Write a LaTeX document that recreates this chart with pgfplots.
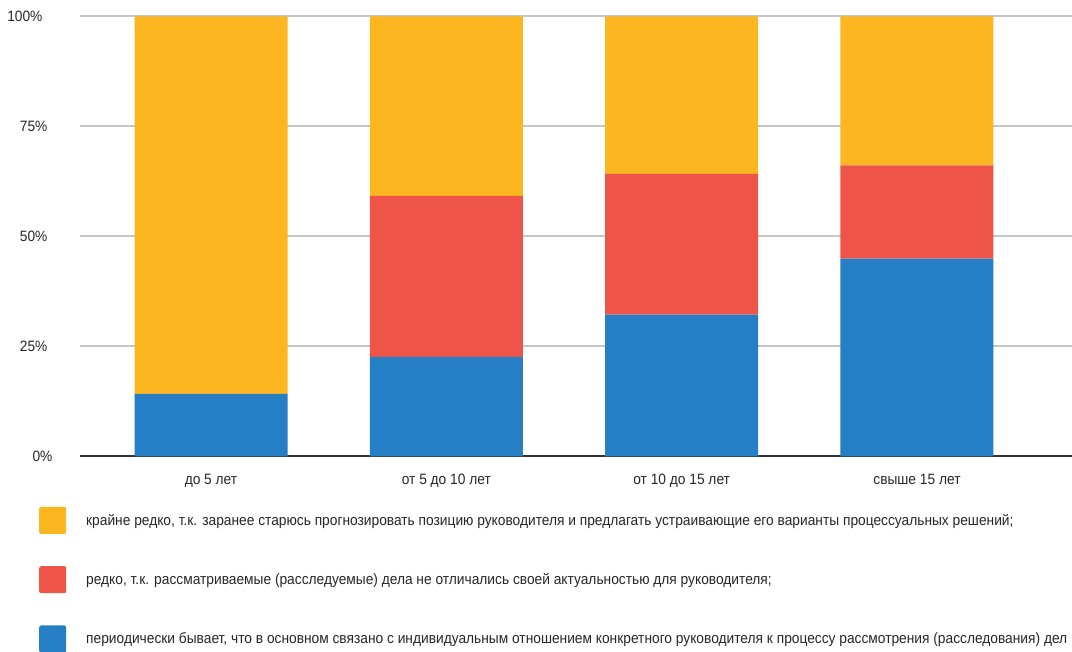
\documentclass[border=0pt]{standalone}
\usepackage{fontspec}
\setmainfont{Liberation Sans}[FakeStretch=0.917]
\usepackage{pgfplots}
\pgfplotsset{compat=1.18}
\definecolor{cyel}{HTML}{FBB620}
\definecolor{cred}{HTML}{EF5449}
\definecolor{cblu}{HTML}{267EC4}
\definecolor{cgrid}{HTML}{C6C6C6}
\begin{document}
\begin{tikzpicture}
\useasboundingbox (0,0) rectangle (1072pt,652pt);
\begin{axis}[
  at={(80pt,195.7pt)}, anchor=south west,
  scale only axis, width=992pt, height=440pt,
  xmin=-0.5567, xmax=3.6587, ymin=0, ymax=100,
  ybar stacked, bar width=153pt,
  axis x line*=bottom, axis y line*=left,
  y axis line style={draw=none},
  x axis line style={line width=2pt, color=black!80, -},
  ymajorgrids, grid style={color=cgrid, line width=2pt},
  major tick length=0pt,
  xtick={0,1,2,3},
  xticklabels={до 5 лет, от 5 до 10 лет, от 10 до 15 лет, свыше 15 лет},
  ytick={0,25,50,75,100},
  yticklabels={0\%\kern-5pt, 25\%, 50\%, 75\%, 100\%\kern5pt},
  yticklabel style={anchor=east, xshift=-29pt, font=\fontsize{15pt}{17pt}\selectfont, text=black!85},
  xticklabel style={yshift=-14pt, font=\fontsize{15pt}{17pt}\selectfont, text=black!85},
  legend image code/.code={\fill[#1, rounded corners=2pt] (0pt,-13.5pt) rectangle (27pt,13.5pt);},
  reverse legend,
  legend cell align=left,
  legend style={at={(axis description cs:-0.0413,-0.1145)}, anchor=north west,
    draw=none, fill=none, inner sep=0pt, row sep=32.3pt, column sep=20pt,
    font=\fontsize{15pt}{17pt}\selectfont, text=black!85,
    nodes={inner sep=0pt}},
]
\addplot[fill=cblu, draw=none] coordinates {(0,14.2) (1,22.6) (2,32.2) (3,44.9)};
\addlegendentry{периодически бывает, что в основном связано с индивидуальным отношением конкретного руководителя к процессу рассмотрения (расследования) дел}
\addplot[fill=cred, draw=none] coordinates {(0,0) (1,36.6) (2,32.0) (3,21.2)};
\addlegendentry{редко, т.к. рассматриваемые (расследуемые) дела не отличались своей актуальностью для руководителя;}
\addplot[fill=cyel, draw=none] coordinates {(0,85.8) (1,40.8) (2,35.8) (3,33.9)};
\addlegendentry{крайне редко, т.к. заранее старюсь прогнозировать позицию руководителя и предлагать устраивающие его варианты процессуальных решений;}
\end{axis}
\end{tikzpicture}
\end{document}
